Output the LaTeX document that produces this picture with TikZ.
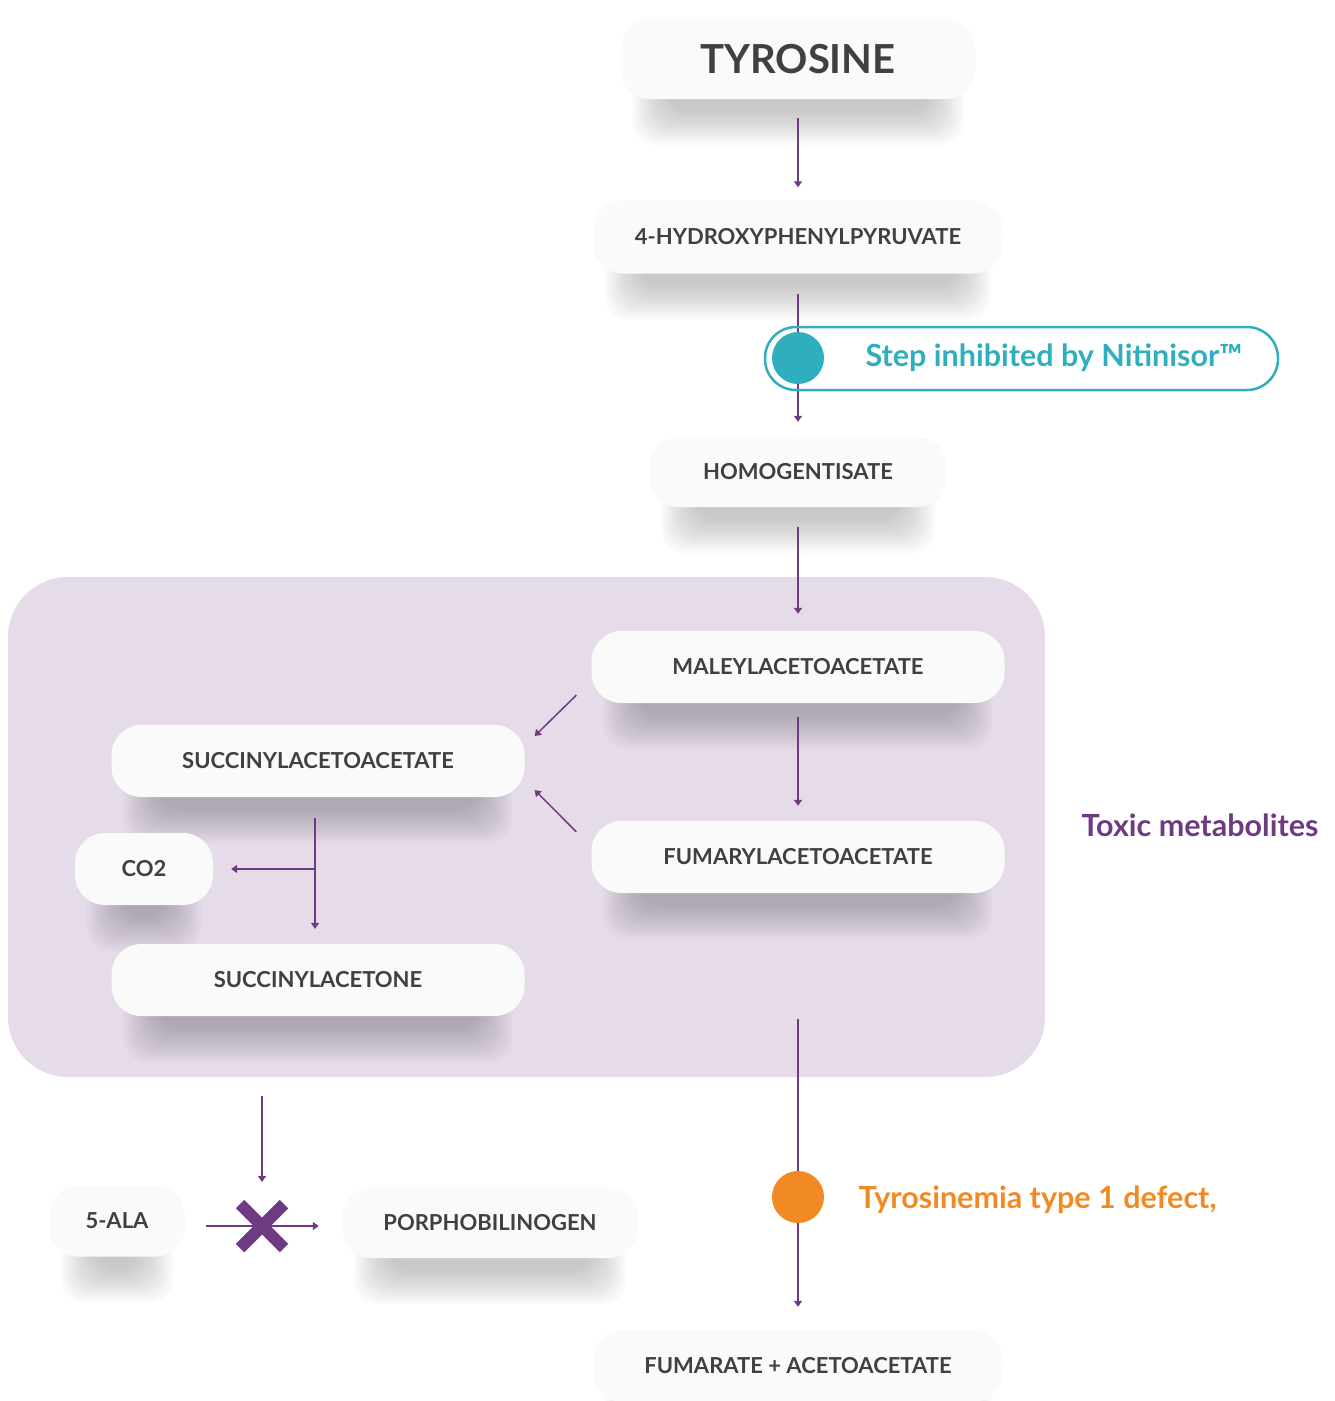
\documentclass[tikz,border=0pt]{standalone}
\usepackage{fontspec}
\setmainfont{Lato}
\usetikzlibrary{arrows.meta,shapes.misc}

\definecolor{pathpurple}{HTML}{6E3A82}
\definecolor{zonepurple}{HTML}{E6DCE9}
\definecolor{nititeal}{HTML}{2FAFBD}
\definecolor{defectorange}{HTML}{F28A24}
\definecolor{labelgray}{HTML}{404040}

\pgfdeclarelayer{zonelayer}
\pgfdeclarelayer{shadelayer}
\pgfsetlayers{zonelayer,shadelayer,main}

\tikzset{
  box/.style={fill=white!98!black, rounded corners=30pt, minimum width=413pt,
    minimum height=72pt, text=labelgray, font=\bfseries\fontsize{22}{26}\selectfont},
  flow/.style={pathpurple, line width=1.5pt, -{Triangle[length=6pt,width=8pt]}},
  dot/.style={circle, minimum size=52pt, inner sep=0pt},
  note/.style={anchor=west, font=\bfseries\fontsize{30.5}{35}\selectfont},
  stopmark/.style={cross out, draw=pathpurple, line width=12pt, minimum size=32pt, inner sep=0pt}
}

\begin{document}
\begin{tikzpicture}[x=1pt,y=-1pt]
\useasboundingbox (0,0) rectangle (1335,1401);

% toxic zone
\begin{pgfonlayer}{zonelayer}
\node[fill=zonepurple, rounded corners=60pt, minimum width=1037pt, minimum height=500pt] at (526.5,827) (zone) {};
\end{pgfonlayer}
\node[note, text=pathpurple] at (1078,825) (toxic) {Toxic metabolites};

% main column
\node[box, minimum width=355pt, minimum height=80pt, font=\bfseries\fontsize{40}{46}\selectfont] at (798,59) (tyrosine) {TYROSINE};
\node[box, minimum width=410pt, minimum height=73pt] at (798,237) (hydroxy) {4-HYDROXYPHENYLPYRUVATE};
\node[box, minimum width=298pt, minimum height=70pt] at (798,472) (homo) {HOMOGENTISATE};
\node[box] at (798,667) (maleyl) {MALEYLACETOACETATE};
\node[box] at (798,857) (fumaryl) {FUMARYLACETOACETATE};
\node[box, minimum width=410pt] at (798,1366) (fumarate) {FUMARATE + ACETOACETATE};

% side branch
\node[box] at (318,761) (succ) {SUCCINYLACETOACETATE};
\node[box, minimum width=138pt] at (144,869) (co2) {CO2};
\node[box] at (318,980) (succtone) {SUCCINYLACETONE};
\node[box, minimum width=136pt, minimum height=71pt] at (117,1221) (ala) {5-ALA};
\node[box, minimum width=296pt, minimum height=70pt] at (490,1223) (porpho) {PORPHOBILINOGEN};
\coordinate (split) at (315,869);

% soft shadows under the boxes
\begin{pgfonlayer}{shadelayer}
\foreach \n in {tyrosine,hydroxy,homo,maleyl,fumaryl,fumarate,succ,co2,succtone,ala,porpho}
  \foreach \k in {0,...,11}
    \fill[black, opacity=0.02, rounded corners=24pt]
      ([xshift={12pt+3pt*\k}]\n.west) rectangle ([xshift={-12pt-3pt*\k}, yshift={-46pt+3pt*\k}]\n.south east);
\end{pgfonlayer}

\path[flow]
  (tyrosine) edge[shorten <=19pt, shorten >=13pt] (hydroxy)
  (hydroxy) edge[shorten <=20pt, shorten >=15pt] (homo)
  (homo) edge[shorten <=20pt, shorten >=17pt] (maleyl)
  (maleyl) edge[shorten <=14pt, shorten >=15pt] (fumaryl)
  (fumaryl) edge[shorten <=126pt, shorten >=23pt] (fumarate)
  (succ.south -| split) edge[shorten <=21pt, shorten >=15pt] (succtone.north -| split)
  (split) edge[shorten >=18pt] (co2);

\draw[flow] ([shift={(-15,-8)}]maleyl.south west) -- ([shift={(10,-25)}]succ.east);
\draw[flow] ([shift={(-15,11)}]fumaryl.north west) -- ([shift={(10,29)}]succ.east);

% blocked step
\coordinate (block) at (262,1226);
\path[flow]
  (succtone.south -| block) edge[shorten <=80pt, shorten >=44pt] (block)
  (ala.east |- block) edge[shorten <=21pt, shorten >=23pt] (porpho.west |- block);
\node[stopmark] at (block) (stop) {};

% inhibition and defect
\node[draw=nititeal, line width=2.5pt, rounded corners=31pt, minimum width=513pt, minimum height=63pt] at (1021.5,358.5) (inhibit) {};
\node[dot, fill=nititeal] at (798,358) (nitidot) {};
\node[note, text=nititeal] at (862,358) (nitilabel) {Step inhibited by Nitinisor™};
\node[dot, fill=defectorange] at (798,1197) (defect) {};
\node[note, text=defectorange] at (855,1200) (defectlabel) {Tyrosinemia type 1 defect,};

\end{tikzpicture}
\end{document}
